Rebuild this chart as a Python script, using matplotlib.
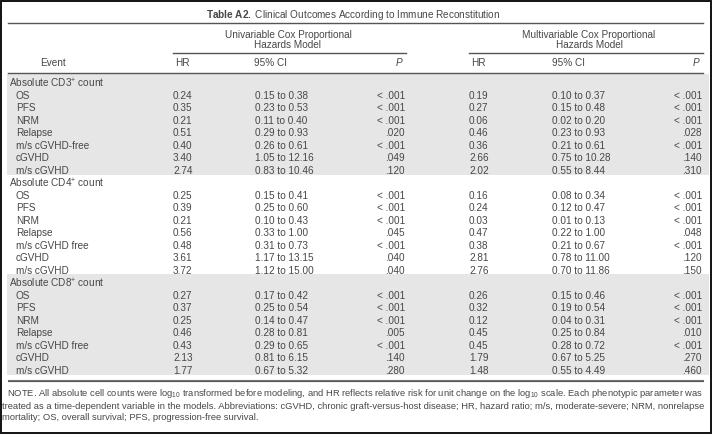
import matplotlib
matplotlib.use("Agg")
import matplotlib.pyplot as plt
from matplotlib.patches import Rectangle

plt.rcParams['font.family'] = ['Liberation Sans', 'DejaVu Sans']
plt.rcParams['mathtext.fontset'] = 'custom'
plt.rcParams['mathtext.rm'] = 'Liberation Sans'
plt.rcParams['mathtext.it'] = 'Liberation Sans:italic'
plt.rcParams['mathtext.bf'] = 'Liberation Sans:bold'

# ---- table data ----
groups = ["Absolute CD3$^{+}$ count", "Absolute CD4$^{+}$ count", "Absolute CD8$^{+}$ count"]
events = [
    ["OS", "PFS", "NRM", "Relapse", "m/s cGVHD-free", "cGVHD", "m/s cGVHD"],
    ["OS", "PFS", "NRM", "Relapse", "m/s cGVHD free", "cGVHD", "m/s cGVHD"],
    ["OS", "PFS", "NRM", "Relapse", "m/s cGVHD free", "cGVHD", "m/s cGVHD"],
]
uni_hr = [
    [0.24, 0.35, 0.21, 0.51, 0.40, 3.40, 2.74],
    [0.25, 0.39, 0.21, 0.56, 0.48, 3.61, 3.72],
    [0.27, 0.37, 0.25, 0.46, 0.43, 2.13, 1.77],
]
uni_lo = [
    [0.15, 0.23, 0.11, 0.29, 0.26, 1.05, 0.83],
    [0.15, 0.25, 0.10, 0.33, 0.31, 1.17, 1.12],
    [0.17, 0.25, 0.14, 0.28, 0.29, 0.81, 0.67],
]
uni_hi = [
    [0.38, 0.53, 0.40, 0.93, 0.61, 12.16, 10.46],
    [0.41, 0.60, 0.43, 1.00, 0.73, 13.15, 15.00],
    [0.42, 0.54, 0.47, 0.81, 0.65, 6.15, 5.32],
]
uni_p = [
    ["< .001", "< .001", "< .001", ".020", "< .001", ".049", ".120"],
    ["< .001", "< .001", "< .001", ".045", "< .001", ".040", ".040"],
    ["< .001", "< .001", "< .001", ".005", "< .001", ".140", ".280"],
]
multi_hr = [
    [0.19, 0.27, 0.06, 0.46, 0.36, 2.66, 2.02],
    [0.16, 0.24, 0.03, 0.47, 0.38, 2.81, 2.76],
    [0.26, 0.32, 0.12, 0.45, 0.45, 1.79, 1.48],
]
multi_lo = [
    [0.10, 0.15, 0.02, 0.23, 0.21, 0.75, 0.55],
    [0.08, 0.12, 0.01, 0.22, 0.21, 0.78, 0.70],
    [0.15, 0.19, 0.04, 0.25, 0.28, 0.67, 0.55],
]
multi_hi = [
    [0.37, 0.48, 0.20, 0.93, 0.61, 10.28, 8.44],
    [0.34, 0.47, 0.13, 1.00, 0.67, 11.00, 11.86],
    [0.46, 0.54, 0.31, 0.84, 0.72, 5.25, 4.49],
]
multi_p = [
    ["< .001", "< .001", "< .001", ".028", "< .001", ".140", ".310"],
    ["< .001", "< .001", "< .001", ".048", "< .001", ".120", ".150"],
    ["< .001", "< .001", "< .001", ".010", "< .001", ".270", ".460"],
]
note_lines = [
    "  NOTE. All absolute cell counts were log$_{10}$ transformed before modeling, and HR reflects relative risk for unit change on the log$_{10}$ scale. Each phenotypic parameter was",
    "treated as a time-dependent variable in the models. Abbreviations: cGVHD, chronic graft-versus-host disease; HR, hazard ratio; m/s, moderate-severe; NRM, nonrelapse",
    "mortality; OS, overall survival; PFS, progression-free survival.",
]

W, H = 712, 434
fig = plt.figure(figsize=(W / 100, H / 100), dpi=100)
ax = fig.add_axes([0, 0, 1, 1])
ax.set_xlim(0, W)
ax.set_ylim(H, 0)
ax.axis('off')

txt = '#474747'
rule = '#555555'
fs = 7.2
x0, x1 = 8, 703

# frame
ax.add_patch(Rectangle((0.8, 0.8), W - 1.6, H - 1.6, fill=False, ec='#111111', lw=1.4))

# title
ax.text(353, 15, r"$\mathbf{Table\ A2.}$ Clinical Outcomes According to Immune Reconstitution",
        ha='center', va='center', fontsize=fs, color=txt)
ax.plot([x0, x1], [23, 23], color=rule, lw=1.0)

# spanners
spanners = [("Univariable Cox Proportional", 288, 173, 406),
            ("Multivariable Cox Proportional", 589, 469, 703)]
for label, cx, lx0, lx1 in spanners:
    ax.text(cx, 35, label, ha='center', va='center', fontsize=fs, color=txt)
    ax.text(cx, 45, "Hazards Model", ha='center', va='center', fontsize=fs, color=txt)
    ax.plot([lx0, lx1], [53, 53], color=rule, lw=1.0)

# column header
hy = 63
ax.text(53, hy, "Event", ha='center', va='center', fontsize=fs, color=txt)
for hrx, cix, px in [(182, 270, 399), (478, 569, 696)]:
    ax.text(hrx, hy, "HR", ha='center', va='center', fontsize=fs, color=txt)
    ax.text(cix, hy, "95% CI", ha='center', va='center', fontsize=fs, color=txt)
    ax.text(px, hy, "P", ha='center', va='center', fontsize=fs, color=txt, style='italic')
ax.plot([x0, x1], [72.5, 72.5], color=rule, lw=1.0)

# body
y_first = 83
dy = 12.52
row = 0
for g in range(len(groups)):
    gy = y_first + row * dy
    if g % 2 == 0:
        ax.add_patch(Rectangle((7, gy - 9), 702, 8 * dy + 0.5, color='#e6e6e6', lw=0, zorder=0))
    ax.text(9, gy, groups[g], ha='left', va='center', fontsize=fs, color=txt)
    row += 1
    for i, ev in enumerate(events[g]):
        y = y_first + row * dy
        ax.text(16, y, ev, ha='left', va='center', fontsize=fs, color=txt)
        ax.text(173, y, f"{uni_hr[g][i]:.2f}", ha='left', va='center', fontsize=fs, color=txt)
        ax.text(255, y, f"{uni_lo[g][i]:.2f} to {uni_hi[g][i]:.2f}", ha='left', va='center', fontsize=fs, color=txt)
        ax.text(405, y, uni_p[g][i], ha='right', va='center', fontsize=fs, color=txt)
        ax.text(469, y, f"{multi_hr[g][i]:.2f}", ha='left', va='center', fontsize=fs, color=txt)
        ax.text(552, y, f"{multi_lo[g][i]:.2f} to {multi_hi[g][i]:.2f}", ha='left', va='center', fontsize=fs, color=txt)
        ax.text(702, y, multi_p[g][i], ha='right', va='center', fontsize=fs, color=txt)
        row += 1

# bottom rule
ax.plot([x0, x1], [379.8, 379.8], color='#777777', lw=0.8)
ax.plot([x0, x1], [381.3, 381.3], color='#555555', lw=0.8)

# note (one text block, tight leading as in the source)
ax.text(2, 387, "\n".join(note_lines), ha='left', va='top', fontsize=6.75,
        color=txt, linespacing=1.3)

fig.savefig("out.png", dpi=100)
